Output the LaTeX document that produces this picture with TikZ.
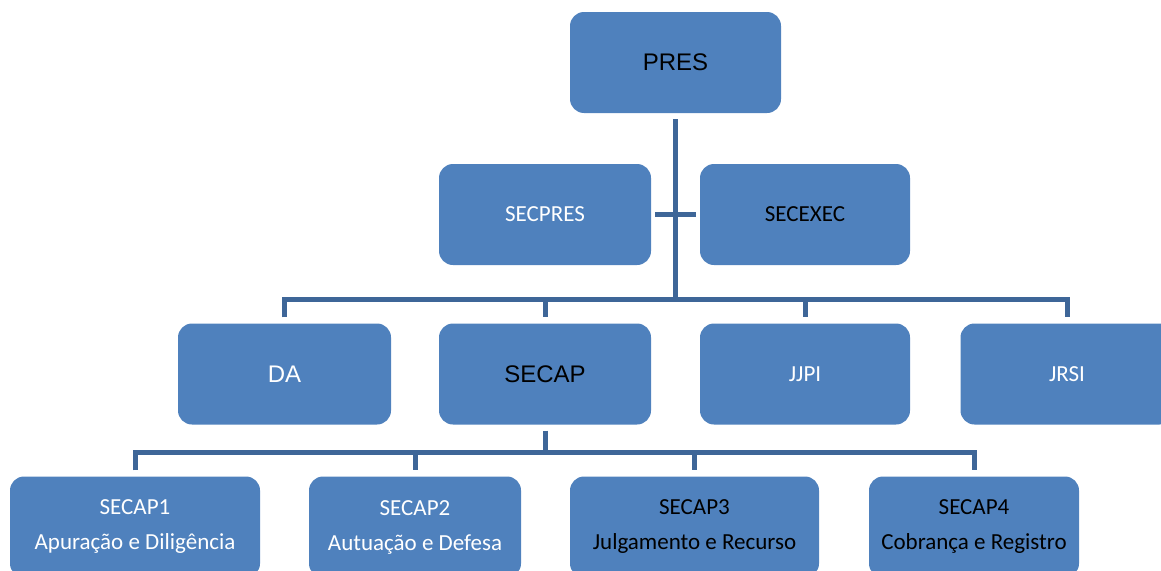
\documentclass[tikz,border=0pt]{standalone}
\usepackage{fontspec}
\newfontfamily\arialfont{Liberation Sans}
\newfontfamily\califont{Carlito}
\definecolor{boxblue}{RGB}{79,129,189}
\definecolor{lineblue}{RGB}{62,102,152}

\begin{document}
\begin{tikzpicture}[x=1pt,y=-1pt,
  unit/.style={fill=boxblue,rounded corners=14pt,minimum height=101pt,inner sep=0pt,align=center},
  arial/.style={font=\arialfont\fontsize{24}{29}\selectfont},
  cali/.style={font=\califont\fontsize{23}{35}\selectfont},
  light/.style={text=white},
  link/.style={lineblue,line width=5pt}]
\clip (0,0) rectangle (1161,570);
\node[unit,arial,minimum width=211pt] (pres) at (675.5,62.5) {PRES};
\node[unit,cali,light,minimum width=212pt] (secpres) at (545,214.5) {SECPRES};
\node[unit,cali,minimum width=210pt] (secexec) at (805,214.5) {SECEXEC};
\node[unit,arial,light,minimum width=213pt] (da) at (284.5,374) {DA};
\node[unit,arial,minimum width=212pt] (secap) at (545,374) {SECAP};
\node[unit,cali,light,minimum width=210pt] (jjpi) at (805,374) {JJPI};
\node[unit,cali,light,minimum width=213pt] (jrsi) at (1067,374) {JRSI};
\node[unit,cali,light,minimum width=250pt] (secap1) at (135,527) {SECAP1\\Apuração e Diligência};
\node[unit,cali,light,minimum width=212pt] (secap2) at (415,527) {SECAP2\\Autuação e Defesa};
\node[unit,cali,minimum width=249pt] (secap3) at (694.5,527) {SECAP3\\Julgamento e Recurso};
\node[unit,cali,minimum width=210pt] (secap4) at (974,527) {SECAP4\\Cobrança e Registro};

\coordinate (hub) at (675.5,299);
\coordinate (subhub) at (545,452);
\draw[link,shorten <=6pt] (pres) -- (hub);
\draw[link,shorten <=4pt,shorten >=4pt] (secpres) -- (secexec);
\draw[link,shorten <=6pt,shorten >=6pt] (da.north) -- (da.north |- hub) -- (jrsi.north |- hub) -- (jrsi.north);
\foreach \n in {secap,jjpi}
  \draw[link,shorten >=6pt] (\n.north |- hub) -- (\n.north);
\draw[link,shorten <=6pt] (secap) -- (subhub);
\draw[link,shorten <=6pt,shorten >=6pt] (secap1.north) -- (secap1.north |- subhub) -- (secap4.north |- subhub) -- (secap4.north);
\foreach \n in {secap2,secap3}
  \draw[link,shorten >=6pt] (\n.north |- subhub) -- (\n.north);
\end{tikzpicture}
\end{document}
